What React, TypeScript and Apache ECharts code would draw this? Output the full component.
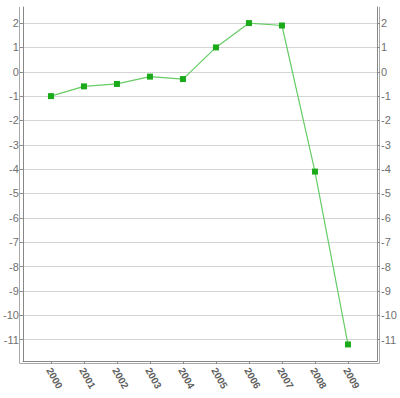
import React, { useEffect, useRef } from "react";
import * as echarts from "echarts";

const years = [2000, 2001, 2002, 2003, 2004, 2005, 2006, 2007, 2008, 2009];
const values = [-1.0, -0.6, -0.5, -0.2, -0.3, 1.0, 2.0, 1.9, -4.1, -11.2];
const yTicks = [-11, -10, -9, -8, -7, -6, -5, -4, -3, -2, -1, 0, 1, 2];

export default function App() {
  const ref = useRef<HTMLDivElement>(null);
  useEffect(() => {
    document.body.style.margin = "0";
    const chart = echarts.init(ref.current!, null, { renderer: "svg" });
    const labelStyle = { color: "#707070", fontSize: 11, fontFamily: "Arial, 'Liberation Sans', sans-serif" };
    const yAxisBase = {
      type: "value" as const,
      min: -11.88,
      max: 2.66,
      axisLine: { show: true, lineStyle: { color: "#888", width: 1 } },
      axisTick: { show: true, length: 3, customValues: yTicks, lineStyle: { color: "#888" } },
      axisLabel: { ...labelStyle, customValues: yTicks, margin: 4 },
    };
    const frame = { stroke: "#aaa", lineWidth: 1 };
    chart.setOption({
      animation: false,
      backgroundColor: "#fff",
      grid: { left: 21, right: 23, top: 7, bottom: 37, containLabel: false },
      graphic: [
        { type: "line", shape: { x1: 19.5, y1: 7, x2: 19.5, y2: 363.5 }, style: frame, silent: true },
        { type: "line", shape: { x1: 19.5, y1: 363.5, x2: 379.5, y2: 363.5 }, style: frame, silent: true },
        { type: "line", shape: { x1: 379.5, y1: 7, x2: 379.5, y2: 363.5 }, style: frame, silent: true },
      ],
      xAxis: {
        type: "value",
        min: 1999.15,
        max: 2009.88,
        axisLine: { show: true, onZero: false, lineStyle: { color: "#888", width: 1 } },
        axisTick: { show: true, length: 3, customValues: years, lineStyle: { color: "#888" } },
        axisLabel: {
          ...labelStyle,
          fontWeight: "bold",
          color: "#606060",
          fontSize: 10,
          customValues: years,
          rotate: -60,
          margin: 11,
          padding: [0, 0, 0, -4],
          formatter: (v: number) => String(v),
        },
        splitLine: { show: false },
      },
      yAxis: [
        {
          ...yAxisBase,
          position: "left",
          splitLine: { show: true, lineStyle: { color: "#d4d4d4", width: 1 } },
        },
        {
          ...yAxisBase,
          position: "right",
          splitLine: { show: false },
        },
      ],
      series: [
        {
          type: "line",
          data: years.map((y, i) => [y, values[i]]),
          yAxisIndex: 0,
          symbol: "rect",
          symbolSize: 6,
          itemStyle: { color: "#1aaa1a" },
          lineStyle: { color: "#66cc66", width: 1.2 },
        },
      ],
    });
    return () => chart.dispose();
  }, []);
  return <div ref={ref} style={{ width: 400, height: 398 }} />;
}
